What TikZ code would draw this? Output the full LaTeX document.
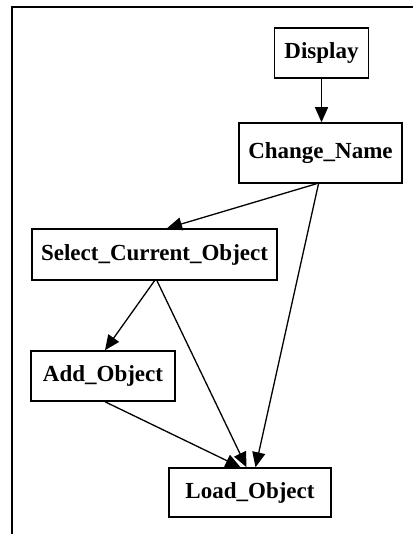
\documentclass[tikz,border=0pt]{standalone}
\usepackage{fontspec}
\setmainfont{Liberation Serif}
\usetikzlibrary{positioning,arrows.meta}
\tikzset{
    module/.style={draw, line width=0.75pt, inner sep=0pt, font=\fontsize{11.5}{13}\selectfont\bfseries},
    call/.style={line width=0.65pt, -{Triangle[length=7.5pt,width=6.5pt]}}
}

\begin{document}
\begin{tikzpicture}[x=0.5pt, y=-0.5pt]
    \useasboundingbox (0,0) rectangle (413,534);
    % frame
    \draw[line width=0.7pt] (12,534) -- (12,7) -- (413,7);

    % modules
    \node[module, minimum width=47pt, minimum height=25pt] (display) at (321.5,53) {Display};
    \node[module, minimum width=81.5pt, minimum height=30pt] (change) at (320.5,153) {Change\_Name};
    \node[module, minimum width=122.5pt, minimum height=25.5pt] (select) at (154.5,254.5) {Select\_Current\_Object};
    \node[module, minimum width=72pt, minimum height=25pt] (add) at (103,376) {Add\_Object};
    \node[module, minimum width=81pt, minimum height=24.5pt] (load) at (250,492.5) {Load\_Object};

    % calls
    \draw[call] (display.south) -- (display.south |- change.north);
    \draw[call] ([xshift=-2pt]change.south) -- ([xshift=6.25pt]select.north);
    \draw[call] ([xshift=-1pt]change.south) -- ([xshift=2.75pt]load.north);
    \draw[call] (select.south) -- ([xshift=1pt]add.north);
    \draw[call] ([xshift=1.25pt]select.south) -- ([xshift=-1.75pt]load.north);
    \draw[call] ([xshift=1pt]add.south) -- ([xshift=-4.75pt]load.north);
\end{tikzpicture}
\end{document}
